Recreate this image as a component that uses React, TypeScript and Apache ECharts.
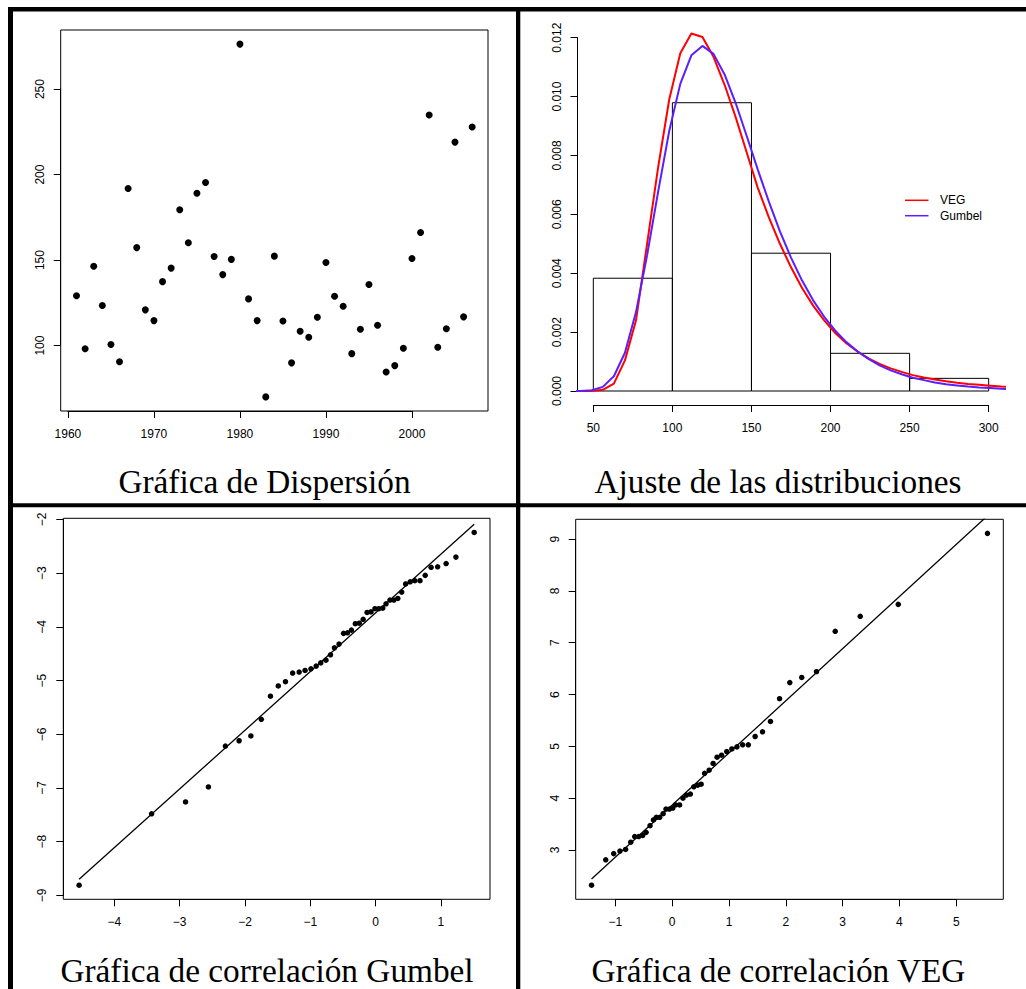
import React, { useEffect, useRef } from "react";
import * as echarts from "echarts";

// ---------- Panel 1: annual maxima (Gráfica de Dispersión) ----------
const years = [
  1961, 1962, 1963, 1964, 1965, 1966, 1967, 1968, 1969, 1970,
  1971, 1972, 1973, 1974, 1975, 1976, 1977, 1978, 1979, 1980,
  1981, 1982, 1983, 1984, 1985, 1986, 1987, 1988, 1989, 1990,
  1991, 1992, 1993, 1994, 1995, 1996, 1997, 1998, 1999, 2000,
  2001, 2002, 2003, 2004, 2005, 2006, 2007,
];
const annualMax = [
  129.1, 98.2, 146.4, 123.4, 100.6, 90.6, 191.9, 157.3, 120.9, 114.6,
  137.4, 145.3, 179.4, 160.1, 189.1, 195.4, 152.1, 141.5, 150.4, 276.3,
  127.3, 114.6, 70.0, 152.3, 114.4, 89.9, 108.4, 104.9, 116.6, 148.6,
  128.9, 123.0, 95.3, 109.6, 135.7, 111.9, 84.6, 88.3, 98.4, 150.9,
  166.1, 234.8, 99.0, 109.8, 219.0, 116.8, 227.8,
];

// ---------- Panel 2: histogram + fitted densities ----------
const binEdges = [50, 100, 150, 200, 250, 300];
const histDensity = [0.00383, 0.00979, 0.00468, 0.00128, 0.00043];
const densX = [
  35, 42, 49, 56, 63, 70, 77, 84, 91, 98, 105, 112, 119, 126, 133, 140, 147,
  154, 161, 168, 175, 182, 189, 196, 203, 210, 217, 224, 231, 238, 245, 252,
  259, 266, 273, 280, 287, 294, 301, 308, 315,
];
const vegDensity = [
  0, 0, 0.000002, 0.00004, 0.00025, 0.00104, 0.0024, 0.005, 0.0076, 0.0099,
  0.01147, 0.01214, 0.01202, 0.01135, 0.0104, 0.0093, 0.0081, 0.0069, 0.0059,
  0.005, 0.0042, 0.0035, 0.0029, 0.0024, 0.00197, 0.00162, 0.00134, 0.00111,
  0.00092, 0.00077, 0.00065, 0.00054, 0.00046, 0.00039, 0.00033, 0.00028,
  0.00024, 0.00021, 0.00018, 0.00015, 0.00013,
];
const gumbelDensity = [
  0, 0.000003, 0.000027, 0.00014, 0.0005, 0.0013, 0.00268, 0.00461, 0.00677,
  0.00883, 0.01043, 0.0114, 0.01172, 0.01145, 0.01075, 0.00978, 0.00866,
  0.00752, 0.00643, 0.00542, 0.00453, 0.00375, 0.00308, 0.00252, 0.00205,
  0.00166, 0.00135, 0.00109, 0.00087, 0.0007, 0.00057, 0.00045, 0.00037,
  0.00029, 0.00023, 0.00019, 0.00015, 0.00012, 0.0001, 0.00008, 0.00006,
];
const legendNames = ["VEG", "Gumbel"];

// ---------- Panel 3: Gumbel probability plot ----------
const gumbelQX = [
  -4.54, -3.43, -2.91, -2.56, -2.3, -2.09, -1.91, -1.75, -1.61, -1.49, -1.38,
  -1.27, -1.17, -1.08, -0.99, -0.91, -0.84, -0.76, -0.69, -0.63, -0.56, -0.49,
  -0.43, -0.37, -0.31, -0.25, -0.19, -0.13, -0.07, -0.01, 0.05, 0.11, 0.16,
  0.22, 0.28, 0.34, 0.4, 0.46, 0.53, 0.6, 0.68, 0.76, 0.85, 0.95, 1.08, 1.23,
  1.51,
];
const gumbelQY = [
  -8.81, -7.48, -7.26, -6.98, -6.22, -6.12, -6.03, -5.72, -5.29, -5.1, -5.02,
  -4.86, -4.84, -4.81, -4.78, -4.73, -4.67, -4.62, -4.52, -4.39, -4.32, -4.12,
  -4.11, -4.06, -3.94, -3.93, -3.86, -3.73, -3.72, -3.66, -3.66, -3.65, -3.57,
  -3.5, -3.5, -3.47, -3.35, -3.2, -3.16, -3.14, -3.14, -3.04, -2.89, -2.88,
  -2.82, -2.7, -2.24,
];
const gumbelLineX = [-4.54, 1.51];
const gumbelLineY = [-8.7, -2.09];

// ---------- Panel 4: VEG probability plot ----------
const vegQX = [
  -1.42, -1.17, -1.03, -0.92, -0.82, -0.73, -0.66, -0.59, -0.52, -0.46, -0.39,
  -0.33, -0.28, -0.22, -0.16, -0.11, -0.05, 0.01, 0.06, 0.13, 0.19, 0.25, 0.32,
  0.38, 0.45, 0.51, 0.57, 0.65, 0.72, 0.79, 0.87, 0.96, 1.05, 1.14, 1.24, 1.34,
  1.46, 1.59, 1.73, 1.89, 2.07, 2.28, 2.54, 2.87, 3.31, 3.98, 5.55,
];
const vegQY = [
  2.32, 2.81, 2.93, 2.98, 3.01, 3.15, 3.26, 3.26, 3.28, 3.34, 3.47, 3.58, 3.63,
  3.63, 3.7, 3.79, 3.79, 3.81, 3.87, 3.87, 4.0, 4.06, 4.08, 4.22, 4.25, 4.27,
  4.48, 4.54, 4.67, 4.79, 4.83, 4.9, 4.95, 4.99, 5.03, 5.03, 5.19, 5.28, 5.48,
  5.92, 6.23, 6.33, 6.44, 7.22, 7.51, 7.74, 9.11,
];
const vegLineX = [-1.42, 5.55];
const vegLineY = [2.44, 9.45];

// ---------- Titles ----------
const titles = [
  "Gráfica de Dispersión",
  "Ajuste de las distribuciones",
  "Gráfica de correlación Gumbel",
  "Gráfica de correlación VEG",
];

// ---------- helpers ----------
function rExtend(vals: number[]): [number, number] {
  const mn = Math.min(...vals);
  const mx = Math.max(...vals);
  const d = (mx - mn) * 0.04;
  return [mn - d, mx + d];
}

type Box = {
  L: number; T: number; R: number; B: number;
  xMin: number; xMax: number; yMin: number; yMax: number;
};
const px = (b: Box, v: number) => b.L + ((v - b.xMin) / (b.xMax - b.xMin)) * (b.R - b.L);
const py = (b: Box, v: number) => b.B - ((v - b.yMin) / (b.yMax - b.yMin)) * (b.B - b.T);

const SANS = '"Liberation Sans", Arial, sans-serif';
const SERIF = '"Liberation Serif", "DejaVu Serif", serif';
const minus = (s: string) => s.replace("-", "\u2212");

const p1x = rExtend(years);
const p1y = rExtend(annualMax);
const p3x = rExtend(gumbelQX);
const p3y = rExtend(gumbelQY);
const p4x = rExtend(vegQX);
const p4y = rExtend(vegQY);

const boxes: Box[] = [
  { L: 60.7, T: 30, R: 488, B: 411, xMin: p1x[0], xMax: p1x[1], yMin: p1y[0], yMax: p1y[1] },
  { L: 577.5, T: 30, R: 1004.5, B: 405, xMin: 40, xMax: 310, yMin: -0.000475, yMax: 0.01226 },
  { L: 63.3, T: 518.3, R: 490, B: 899.3, xMin: p3x[0], xMax: p3x[1], yMin: p3y[0], yMax: p3y[1] },
  { L: 575.7, T: 519.3, R: 1003.3, B: 899.3, xMin: p4x[0], xMax: p4x[1], yMin: p4y[0], yMax: p4y[1] },
];
const framed = [true, false, true, true];
const xTicks: [number, number, number][] = [
  [1960, 2000, 10], [50, 300, 50], [-4, 1, 1], [-1, 5, 1],
];
const yTicks: [number, number, number][] = [
  [100, 250, 50], [0, 0.012, 0.002], [-9, -2, 1], [3, 9, 1],
];
const yFmt = [
  (v: number) => String(v),
  (v: number) => v.toFixed(3),
  (v: number) => minus(String(Math.round(v))),
  (v: number) => String(Math.round(v)),
];
const xFmt = [
  (v: number) => String(v),
  (v: number) => String(v),
  (v: number) => minus(String(Math.round(v))),
  (v: number) => minus(String(Math.round(v))),
];
const titleCenters = [
  [264.5, 481],
  [778, 481],
  [267, 970],
  [778.5, 970],
];

function buildOption() {
  const grid: any[] = [];
  const xAxis: any[] = [];
  const yAxis: any[] = [];
  const mainIdx: number[] = [];

  boxes.forEach((b, i) => {
    mainIdx.push(grid.length);
    grid.push({
      left: b.L, top: b.T, width: b.R - b.L, height: b.B - b.T,
      show: framed[i], borderColor: "#000", borderWidth: 1, backgroundColor: "transparent",
    });
    xAxis.push({ gridIndex: grid.length - 1, type: "value", min: b.xMin, max: b.xMax, show: false });
    yAxis.push({ gridIndex: grid.length - 1, type: "value", min: b.yMin, max: b.yMax, show: false });

    const [x0, x1, xi] = xTicks[i];
    grid.push({ left: px(b, x0), width: px(b, x1) - px(b, x0), top: b.B - 10, height: 10, show: false });
    xAxis.push({
      gridIndex: grid.length - 1, type: "value", position: "bottom", min: x0, max: x1, interval: xi,
      axisLine: { show: true, lineStyle: { color: "#000", width: 1 } },
      axisTick: { show: true, inside: false, length: 7, lineStyle: { color: "#000", width: 1 } },
      axisLabel: {
        show: true, margin: 17, fontSize: 12, color: "#000", fontFamily: SANS,
        showMinLabel: true, showMaxLabel: true, formatter: xFmt[i],
      },
      splitLine: { show: false },
    });
    yAxis.push({ gridIndex: grid.length - 1, type: "value", min: 0, max: 1, show: false });

    const [y0, y1, yi] = yTicks[i];
    grid.push({ left: b.L, width: 10, top: py(b, y1), height: py(b, y0) - py(b, y1), show: false });
    xAxis.push({ gridIndex: grid.length - 1, type: "value", min: 0, max: 1, show: false });
    yAxis.push({
      gridIndex: grid.length - 1, type: "value", position: "left", min: y0, max: y1, interval: yi,
      axisLine: { show: true, lineStyle: { color: "#000", width: 1 } },
      axisTick: { show: true, inside: false, length: 7, lineStyle: { color: "#000", width: 1 } },
      axisLabel: {
        show: true, margin: 15, fontSize: 12, color: "#000", fontFamily: SANS, rotate: 90,
        showMinLabel: true, showMaxLabel: true, formatter: yFmt[i],
      },
      splitLine: { show: false },
    });
  });

  const histData = histDensity.map((d, i) => [binEdges[i], binEdges[i + 1], d]);
  const dot = { color: "#000", opacity: 1 };

  const series: any[] = [
    {
      type: "scatter", xAxisIndex: mainIdx[0], yAxisIndex: mainIdx[0],
      data: years.map((y, i) => [y, annualMax[i]]),
      symbol: "circle", symbolSize: 7, itemStyle: dot,
    },
    {
      type: "custom", xAxisIndex: mainIdx[1], yAxisIndex: mainIdx[1], data: histData,
      renderItem: (_p: any, api: any) => {
        const a = api.coord([api.value(0), api.value(2)]);
        const c = api.coord([api.value(1), 0]);
        return {
          type: "rect",
          shape: { x: a[0], y: a[1], width: c[0] - a[0], height: c[1] - a[1] },
          style: { fill: "none", stroke: "#000", lineWidth: 1 },
        };
      },
    },
    {
      type: "line", name: legendNames[0], xAxisIndex: mainIdx[1], yAxisIndex: mainIdx[1],
      data: densX.map((x, i) => [x, vegDensity[i]]), showSymbol: false, clip: true,
      lineStyle: { color: "#ff0000", width: 2 }, itemStyle: { color: "#ff0000" },
    },
    {
      type: "line", name: legendNames[1], xAxisIndex: mainIdx[1], yAxisIndex: mainIdx[1],
      data: densX.map((x, i) => [x, gumbelDensity[i]]), showSymbol: false, clip: true,
      lineStyle: { color: "#5a1eff", width: 2 }, itemStyle: { color: "#5a1eff" },
    },
    {
      type: "scatter", xAxisIndex: mainIdx[2], yAxisIndex: mainIdx[2],
      data: gumbelQX.map((x, i) => [x, gumbelQY[i]]),
      symbol: "circle", symbolSize: 5.5, itemStyle: dot,
    },
    {
      type: "line", xAxisIndex: mainIdx[2], yAxisIndex: mainIdx[2],
      data: gumbelLineX.map((x, i) => [x, gumbelLineY[i]]), showSymbol: false, clip: true,
      lineStyle: { color: "#000", width: 1.3 },
    },
    {
      type: "scatter", xAxisIndex: mainIdx[3], yAxisIndex: mainIdx[3],
      data: vegQX.map((x, i) => [x, vegQY[i]]),
      symbol: "circle", symbolSize: 5.5, itemStyle: dot,
    },
    {
      type: "line", xAxisIndex: mainIdx[3], yAxisIndex: mainIdx[3],
      data: vegLineX.map((x, i) => [x, vegLineY[i]]), showSymbol: false, clip: true,
      lineStyle: { color: "#000", width: 1.3 },
    },
  ];

  const legendColors = ["#ff0000", "#5a1eff"];
  const graphic: any[] = [
    { type: "rect", shape: { x: 8, y: 7, width: 1018, height: 4.5 }, style: { fill: "#000" } },
    { type: "rect", shape: { x: 8, y: 7, width: 5, height: 982 }, style: { fill: "#000" } },
    { type: "rect", shape: { x: 516, y: 7, width: 4.3, height: 982 }, style: { fill: "#000" } },
    { type: "rect", shape: { x: 8, y: 503.3, width: 1018, height: 4 }, style: { fill: "#000" } },
  ];
  legendNames.forEach((n, i) => {
    const y = 200.3 + i * 15.4;
    graphic.push({
      type: "line", shape: { x1: 905, y1: y, x2: 928.5, y2: y },
      style: { stroke: legendColors[i], lineWidth: 1.5 },
    });
    graphic.push({
      type: "text", x: 940, y,
      style: {
        text: n, fontSize: 12, fontFamily: SANS, fill: "#000",
        align: "left", verticalAlign: "middle", textAlign: "left", textVerticalAlign: "middle",
      },
    });
  });
  titles.forEach((t, i) => {
    graphic.push({
      type: "text", x: titleCenters[i][0], y: titleCenters[i][1],
      style: {
        text: t, fontSize: 33.3, fontFamily: SERIF, fill: "#000",
        align: "center", verticalAlign: "middle", textAlign: "center", textVerticalAlign: "middle",
      },
    });
  });

  return { animation: false, backgroundColor: "#fff", grid, xAxis, yAxis, series, graphic };
}

export default function App() {
  const ref = useRef<HTMLDivElement>(null);
  useEffect(() => {
    if (!ref.current) return;
    const chart = echarts.init(ref.current, undefined, { renderer: "svg" });
    chart.setOption(buildOption() as any);
    return () => chart.dispose();
  }, []);
  return (
    <div
      ref={ref}
      style={{ position: "fixed", left: 0, top: 0, width: 1026, height: 989, background: "#fff" }}
    />
  );
}
